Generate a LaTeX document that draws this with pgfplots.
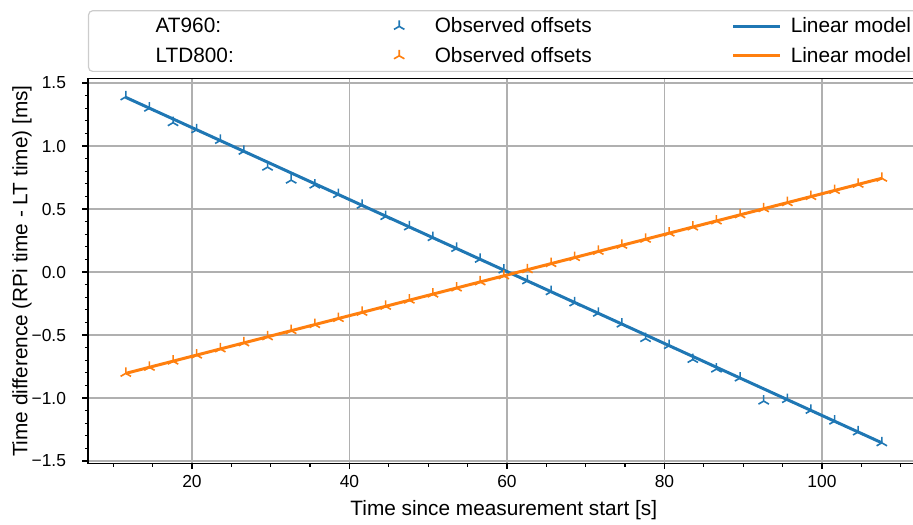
\documentclass[border=0pt]{standalone}
\usepackage{fontspec}
\setmainfont{Liberation Sans}
\usepackage{pgfplots}
\pgfplotsset{compat=1.18}
\usetikzlibrary{plotmarks}
\definecolor{tabblue}{HTML}{1F77B4}
\definecolor{taborange}{HTML}{FF7F0E}
\definecolor{gridgray}{HTML}{B0B0B0}

\pgfplotsset{
  markimg/.style={legend image code/.code={\draw[##1] plot coordinates {(10pt,0pt)}; \path (0pt,0pt) (20pt,0pt);}},
  lineimg/.style={legend image code/.code={\draw[##1] (0pt,0pt) -- (23.5pt,0pt);}},
}

\pgfplotstableread{
x y
11.6 1.390
14.6 1.300
17.6 1.185
20.6 1.129
23.6 1.044
26.6 0.958
29.6 0.832
32.6 0.729
35.6 0.690
38.6 0.615
41.6 0.530
44.6 0.440
47.6 0.358
50.6 0.273
53.6 0.187
56.6 0.101
59.6 0.016
62.6 -0.070
65.6 -0.156
68.6 -0.245
71.6 -0.327
74.6 -0.413
77.6 -0.528
80.6 -0.584
83.6 -0.694
86.6 -0.770
89.6 -0.841
92.6 -1.024
95.6 -1.012
98.6 -1.098
101.6 -1.183
104.6 -1.269
107.6 -1.355
}\atobs

\pgfplotstableread{
x y
11.6 -0.804
14.6 -0.756
17.6 -0.707
20.6 -0.659
23.6 -0.610
26.6 -0.562
29.6 -0.514
32.6 -0.465
35.6 -0.417
38.6 -0.369
41.6 -0.320
44.6 -0.272
47.6 -0.223
50.6 -0.175
53.6 -0.127
56.6 -0.078
59.6 -0.030
62.6 0.018
65.6 0.067
68.6 0.115
71.6 0.164
74.6 0.212
77.6 0.260
80.6 0.309
83.6 0.357
86.6 0.405
89.6 0.454
92.6 0.502
95.6 0.550
98.6 0.599
101.6 0.647
104.6 0.696
107.6 0.744
}\ltdobs

\begin{document}
\begin{tikzpicture}
\begin{axis}[
  name=ax,
  scale only axis,
  width=415.8pt, height=192.5pt,
  xmin=6.8, xmax=112.4, ymin=-1.52, ymax=1.535,
  axis line style={line width=0.8pt, black},
  tick align=outside,
  xtick pos=left, ytick pos=left,
  xtick={20,40,60,80,100},
  xticklabels={20,40,60,80,100},
  minor xtick={10,15,25,30,35,45,50,55,65,70,75,85,90,95,105,110},
  ytick={-1.5,-1,-0.5,0,0.5,1,1.5},
  yticklabels={−1.5,−1.0,−0.5,0.0,0.5,1.0,1.5},
  minor y tick num=4,
  major tick length=2.8pt, minor tick length=1.6pt,
  every tick/.style={black, line width=0.6pt},
  grid=major,
  major grid style={line width=0.6pt, draw=gridgray},
  ticklabel style={font=\fontsize{8.7}{10}\selectfont},
  xticklabel style={anchor=north, inner sep=0pt, yshift=-3pt},
  yticklabel style={anchor=east, inner sep=0pt, xshift=-8pt},
  label style={font=\fontsize{10.4}{12}\selectfont},
  xlabel={Time since measurement start [s]},
  ylabel={Time difference (RPi time - LT time) [ms]},
  xlabel style={at={(axis description cs:0.5,-0.1208)}, anchor=center},
  ylabel style={at={(axis description cs:-0.0794,0.5)}, anchor=center},
  legend columns=3,
  legend cell align=left,
  legend style={
    at={(0,1)}, anchor=south west, yshift=3.3pt,
    draw=black!20, line width=0.6pt, rounded corners=2pt,
    inner xsep=0pt, inner ysep=3pt,
    column sep=0pt, row sep=5.1pt,
    font=\fontsize{10.4}{12}\selectfont,
    nodes={inner sep=0pt, text height=8pt, text depth=1.6pt},
  },
]
\addlegendimage{empty legend}
\addlegendentry{\makebox[145pt][l]{\hspace*{33.5pt}AT960:}}
\addplot[only marks, mark=Mercedes star, mark size=3pt, color=tabblue,
  mark options={line width=0.8pt}, markimg]
  table[x=x,y=y] {\atobs};
\addlegendentry{\makebox[156pt][l]{\hspace*{7.5pt}Observed offsets}}
\addplot[color=tabblue, line width=1.5pt, no marks, lineimg]
  coordinates {(11.6,1.386) (107.6,-1.355)};
\addlegendentry{\makebox[71.4pt][l]{\hspace*{4.5pt}Linear model}}
\addlegendimage{empty legend}
\addlegendentry{\makebox[145pt][l]{\hspace*{33.5pt}LTD800:}}
\addplot[only marks, mark=Mercedes star, mark size=3pt, color=taborange,
  mark options={line width=0.8pt}, markimg]
  table[x=x,y=y] {\ltdobs};
\addlegendentry{\makebox[156pt][l]{\hspace*{7.5pt}Observed offsets}}
\addplot[color=taborange, line width=1.5pt, no marks, lineimg]
  coordinates {(11.6,-0.804) (107.6,0.744)};
\addlegendentry{\makebox[71.4pt][l]{\hspace*{4.5pt}Linear model}}
\end{axis}
\pgfresetboundingbox
\path[use as bounding box] ([shift={(-44pt,-30.25pt)}]ax.south west) rectangle ([shift={(412.5pt,39.3pt)}]ax.north west);
\end{tikzpicture}
\end{document}
